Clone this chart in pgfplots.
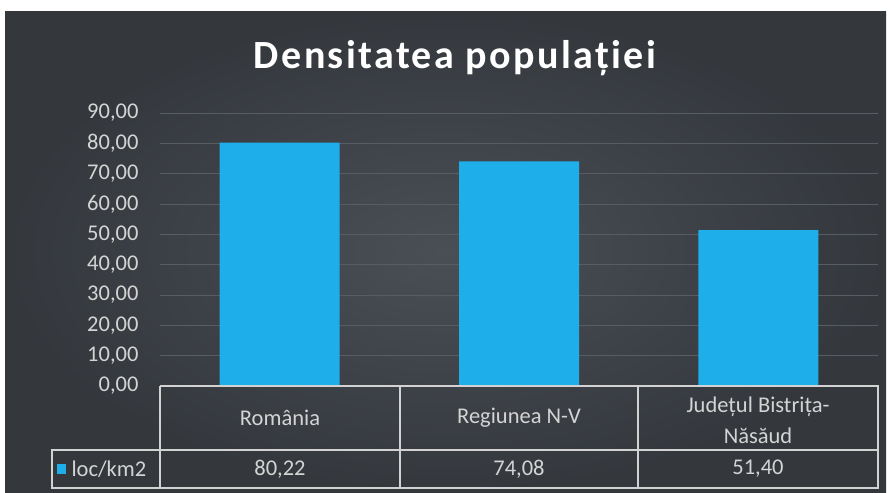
\documentclass[border=0pt]{standalone}
\usepackage{pgfplots}
\pgfplotsset{compat=1.18}
\usepackage{fontspec}
\setmainfont{Carlito}
\newfontfamily\titlefont[LetterSpace=6]{Carlito}
\definecolor{bgin}{RGB}{74,79,86}
\definecolor{bgout}{RGB}{52,56,61}
\definecolor{barc}{RGB}{30,174,234}
\definecolor{gridc}{RGB}{88,93,100}
\definecolor{txtc}{RGB}{212,212,212}
\definecolor{tabc}{RGB}{210,210,210}
\begin{document}
\begin{tikzpicture}[x=1pt,y=1pt]
\fill[white] (0,0) rectangle (893,492);
\shade[inner color=bgin, outer color=bgout] (5,0) rectangle (886,480);
\node[text=white, font=\titlefont\bfseries\fontsize{40}{46}\selectfont] at (455,434) {Densitatea populației};
\begin{axis}[
  at={(160pt,106pt)}, anchor=south west, scale only axis,
  width=718pt, height=273pt,
  xmin=-0.5, xmax=2.5, ymin=0, ymax=90,
  ytick={0,10,...,90}, xtick=\empty,
  ymajorgrids, grid style={gridc, line width=0.8pt},
  axis line style={draw=none}, major tick length=0pt,
  y tick label style={text=txtc, font=\fontsize{22.5}{27}\selectfont, xshift=-18pt},
  /pgf/number format/.cd, fixed, fixed zerofill, precision=2, use comma, assume math mode=true,
]
\addplot[ybar, bar width=120pt, bar shift=0pt, fill=barc, draw=none] coordinates {(0,80.22) (1,74.08) (2,51.40)};
\end{axis}
\draw[tabc, line width=1.2pt] (160,106) -- (878,106) -- (878,4) -- (52,4) -- (52,42) -- (878,42);
\foreach \x in {160,400,638} \draw[tabc, line width=1.2pt] (\x,106) -- (\x,4);
\begin{scope}[every node/.style={text=txtc, font=\fontsize{22.5}{31}\selectfont, align=center}]
\node at (280,74) {România};
\node at (519,74) {Regiunea N-V};
\node at (758,72) {Județul Bistrița-\\Năsăud};
\node at (280,23) {80,22};
\node at (519,23) {74,08};
\node at (758,23) {51,40};
\node[anchor=west] at (68,23) {loc/km2};
\end{scope}
\fill[barc] (57,18) rectangle (66,28);
\end{tikzpicture}
\end{document}
